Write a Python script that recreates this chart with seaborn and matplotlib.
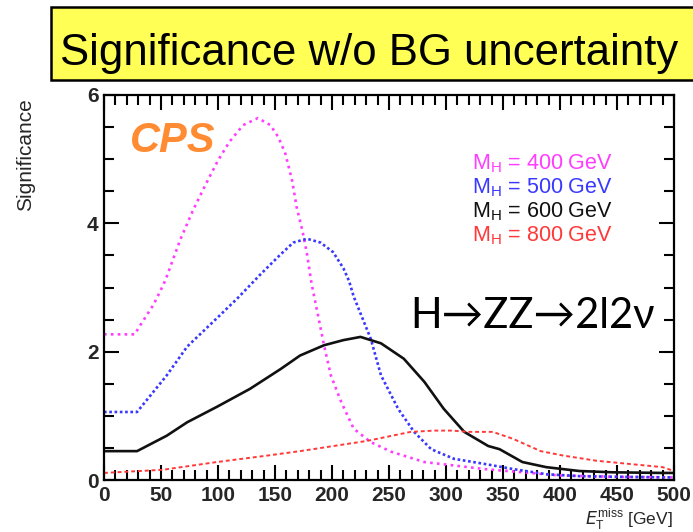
import matplotlib
matplotlib.use("Agg")
import matplotlib.pyplot as plt
from matplotlib.patches import Rectangle
from matplotlib.ticker import MultipleLocator
import seaborn as sns

# ---------------- data ----------------
pink_x = [0, 27, 31, 43, 49, 54, 67, 78, 89, 100, 110, 122, 135, 146, 153, 159, 165, 169, 174, 178, 182,
          193, 199, 208, 219, 234, 252, 281, 334, 400, 450, 500]
pink_y = [2.27, 2.27, 2.39, 2.72, 2.93, 3.12, 3.75, 4.2, 4.6, 4.98, 5.27, 5.53, 5.64, 5.53, 5.34, 5.09, 4.67,
          4.25, 3.89, 3.53, 3.07, 2.1, 1.63, 1.22, 0.8, 0.59, 0.44, 0.28, 0.17, 0.07, 0.05, 0.04]

blue_x = [0, 29, 55, 73, 96, 117, 137, 154, 166, 178, 190, 201, 210, 215, 219, 234, 243, 258, 272, 287,
          307, 334, 359, 388, 417, 450, 500]
blue_y = [1.06, 1.06, 1.63, 2.08, 2.47, 2.83, 3.2, 3.5, 3.7, 3.76, 3.7, 3.55, 3.3, 3.1, 2.86, 2.2, 1.63,
          1.11, 0.75, 0.48, 0.33, 0.25, 0.17, 0.09, 0.06, 0.05, 0.04]

black_x = [0, 29, 55, 73, 99, 128, 155, 172, 193, 210, 225, 243, 263, 281, 298, 316, 337, 347, 367, 388,
           417, 446, 490, 500]
black_y = [0.45, 0.45, 0.69, 0.9, 1.14, 1.42, 1.73, 1.94, 2.1, 2.18, 2.23, 2.13, 1.89, 1.53, 1.11, 0.75,
           0.53, 0.48, 0.28, 0.2, 0.14, 0.12, 0.11, 0.11]

red_x = [0, 52, 99, 143, 172, 231, 269, 290, 305, 320, 341, 359, 383, 403, 432, 461, 490, 500]
red_y = [0.11, 0.16, 0.28, 0.38, 0.45, 0.61, 0.75, 0.77, 0.77, 0.75, 0.75, 0.64, 0.45, 0.38, 0.3, 0.25,
         0.2, 0.14]

legend_labels = [r"M$_{\rm H}$ = 400 GeV", r"M$_{\rm H}$ = 500 GeV",
                 r"M$_{\rm H}$ = 600 GeV", r"M$_{\rm H}$ = 800 GeV"]
x_ticks = [0, 50, 100, 150, 200, 250, 300, 350, 400, 450, 500]
y_ticks = [0, 2, 4, 6]

# ---------------- style ----------------
sns.set_theme(style="ticks")
plt.rcParams["font.family"] = ["Liberation Sans", "DejaVu Sans"]
plt.rcParams["mathtext.fontset"] = "custom"
plt.rcParams["mathtext.rm"] = "Liberation Sans"

col_pink = "#FF3CFF"
col_blue = "#3838FF"
col_black = "#111111"
col_red = "#FF3838"

fig = plt.figure(figsize=(6.93, 5.32), dpi=100)
ax = fig.add_axes([104 / 693, 1 - 480 / 532, 570 / 693, 385 / 532])

sns.lineplot(x=pink_x, y=pink_y, ax=ax, color=col_pink, lw=1.9, linestyle=(0, (1, 1.6)),
             sort=False, estimator=None)
sns.lineplot(x=blue_x, y=blue_y, ax=ax, color=col_blue, lw=1.9, linestyle=(0, (1, 1.0)),
             sort=False, estimator=None)
sns.lineplot(x=black_x, y=black_y, ax=ax, color=col_black, lw=1.9, linestyle="-",
             sort=False, estimator=None)
sns.lineplot(x=red_x, y=red_y, ax=ax, color=col_red, lw=1.4, linestyle=(0, (2, 1.5)),
             sort=False, estimator=None)

ax.set_xlim(0, 500)
ax.set_ylim(0, 6)
ax.set_xticks(x_ticks)
ax.set_yticks(y_ticks)
ax.xaxis.set_minor_locator(MultipleLocator(10))
ax.yaxis.set_minor_locator(MultipleLocator(0.5))
ax.tick_params(which="both", direction="in", top=True, right=True, width=1.5, color="black")
ax.tick_params(which="major", length=11)
ax.tick_params(which="minor", length=7)
ax.tick_params(axis="x", which="major", pad=4)
ax.tick_params(axis="y", which="major", pad=4)
for lab in ax.get_xticklabels() + ax.get_yticklabels():
    lab.set_fontsize(15)
    lab.set_fontweight("bold")
for sp in ax.spines.values():
    sp.set_linewidth(1.6)
    sp.set_color("black")
    sp.set_visible(True)

ax.set_xlabel(r"$E_{\rm T}^{\rm miss}$ [GeV]", fontsize=12.5, loc="right")
ax.xaxis.set_label_coords(0.997, -0.068)
ax.set_ylabel("Significance", fontsize=15)
ax.yaxis.set_label_coords(-0.121, 0.845)

# legend as coloured text
leg_y = [0.8078, 0.7455, 0.6831, 0.6208]
for lab, yy, c in zip(legend_labels, leg_y, [col_pink, col_blue, col_black, col_red]):
    ax.text(0.6456, yy, lab, color=c, fontsize=15.5, transform=ax.transAxes, va="baseline", ha="left")

ax.text(0.0456, 0.852, "CPS", color="#FF8C33", fontsize=30, fontweight="bold", style="italic",
        transform=ax.transAxes, va="baseline", ha="left")

ax.text(0.537, 0.395, "H\u2192ZZ\u21922l2\u03bd", fontsize=30, family=["Lato", "DejaVu Sans"],
        transform=ax.transAxes, va="baseline", ha="left", color="black")

# title box
fig.patches.append(Rectangle((51 / 693, 1 - 80 / 532), 1.0, 73 / 532, transform=fig.transFigure,
                             facecolor="#FFFF55", edgecolor="black", lw=1.8, zorder=0))
fig.text(60 / 693, 1 - 65 / 532, "Significance w/o BG uncertainty", fontsize=31.5,
         va="baseline", ha="left", color="black")

fig.savefig("out.png", dpi=100)
